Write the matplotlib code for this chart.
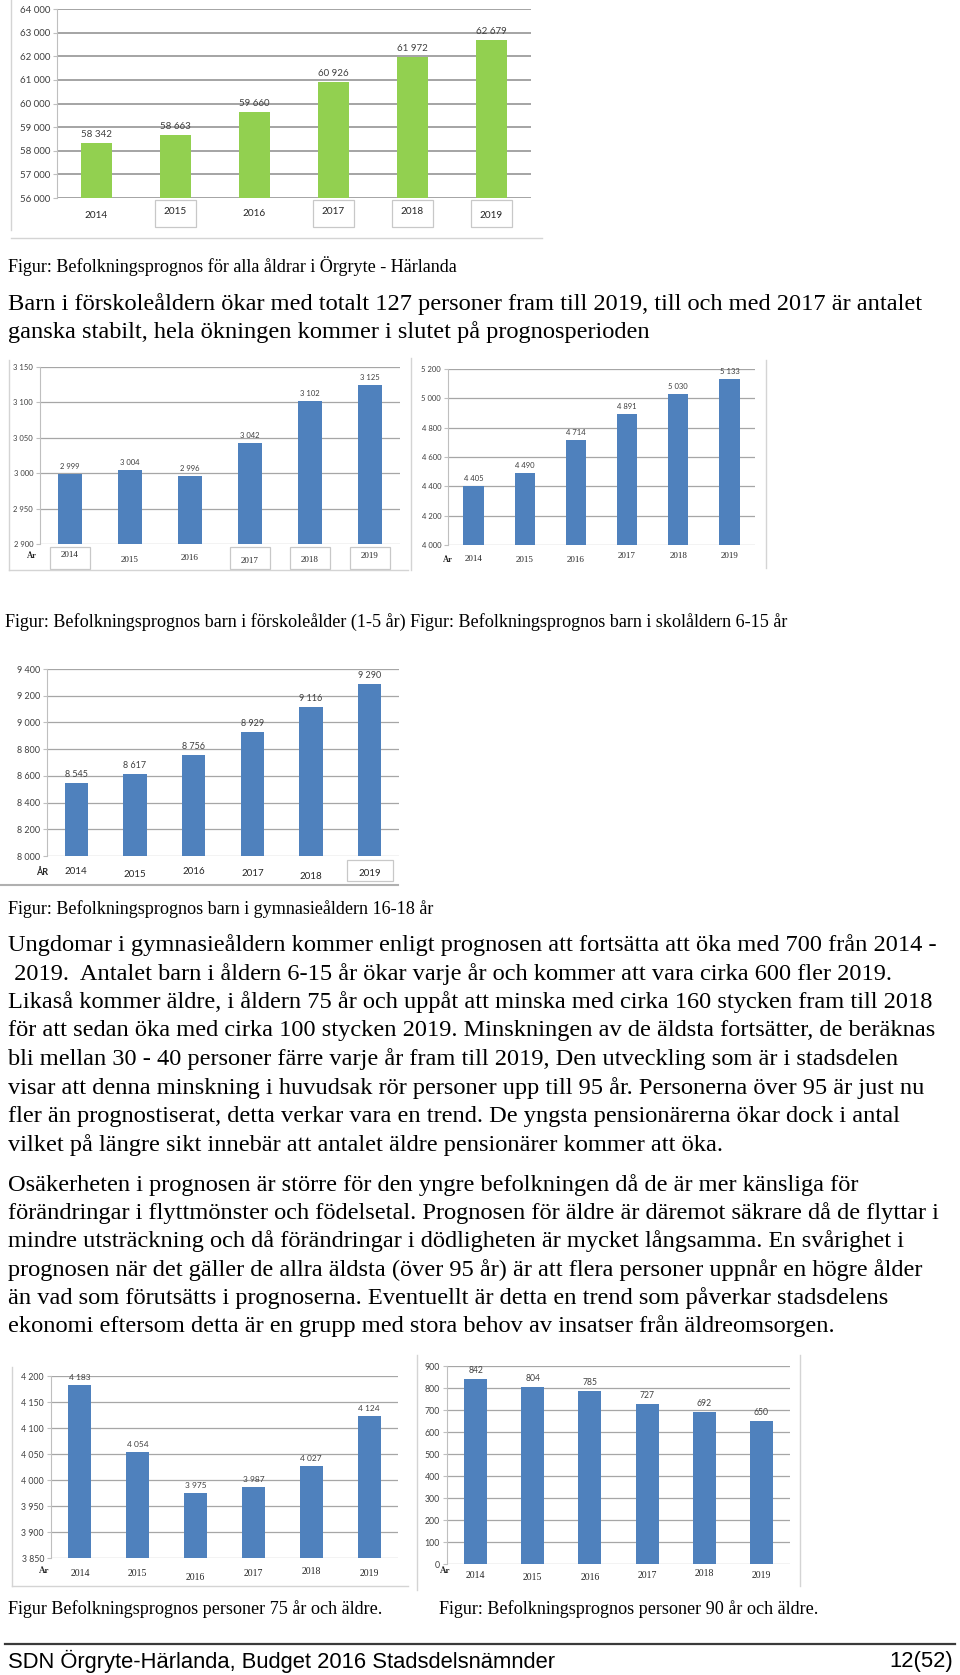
import matplotlib
matplotlib.use("Agg")
import matplotlib.pyplot as plt
from matplotlib import font_manager
from matplotlib.lines import Line2D
from matplotlib.patches import Rectangle

W, H = 960, 1675

years = ["2014", "2015", "2016", "2017", "2018", "2019"]

# Befolkningsprognos, antal personer per år
alla = [58342, 58663, 59660, 60926, 61972, 62679]
forskola = [2999, 3004, 2996, 3042, 3102, 3125]
skola = [4405, 4490, 4714, 4891, 5030, 5133]
gymnasie = [8545, 8617, 8756, 8929, 9116, 9290]
aldre75 = [4183, 4054, 3975, 3987, 4027, 4124]
aldre90 = [842, 804, 785, 727, 692, 650]

ticks_alla = list(range(56000, 64001, 1000))
ticks_forskola = list(range(2900, 3151, 50))
ticks_skola = list(range(4000, 5201, 200))
ticks_gymnasie = list(range(8000, 9401, 200))
ticks_aldre75 = list(range(3850, 4201, 50))
ticks_aldre90 = list(range(0, 901, 100))

caption_alla = "Figur: Befolkningsprognos för alla åldrar i Örgryte - Härlanda"
intro_lines = [
    "Barn i förskoleåldern ökar med totalt 127 personer fram till 2019, till och med 2017 är antalet",
    "ganska stabilt, hela ökningen kommer i slutet på prognosperioden",
]
caption_barn = ("Figur: Befolkningsprognos barn i förskoleålder (1-5 år) "
                "Figur: Befolkningsprognos barn i skolåldern 6-15 år")
caption_gymn = "Figur: Befolkningsprognos barn i gymnasieåldern 16-18 år"
para1 = [
    "Ungdomar i gymnasieåldern kommer enligt prognosen att fortsätta att öka med 700 från 2014 -",
    " 2019.  Antalet barn i åldern 6-15 år ökar varje år och kommer att vara cirka 600 fler 2019.",
    "Likaså kommer äldre, i åldern 75 år och uppåt att minska med cirka 160 stycken fram till 2018",
    "för att sedan öka med cirka 100 stycken 2019. Minskningen av de äldsta fortsätter, de beräknas",
    "bli mellan 30 - 40 personer färre varje år fram till 2019, Den utveckling som är i stadsdelen",
    "visar att denna minskning i huvudsak rör personer upp till 95 år. Personerna över 95 är just nu",
    "fler än prognostiserat, detta verkar vara en trend. De yngsta pensionärerna ökar dock i antal",
    "vilket på längre sikt innebär att antalet äldre pensionärer kommer att öka.",
]
para2 = [
    "Osäkerheten i prognosen är större för den yngre befolkningen då de är mer känsliga för",
    "förändringar i flyttmönster och födelsetal. Prognosen för äldre är däremot säkrare då de flyttar i",
    "mindre utsträckning och då förändringar i dödligheten är mycket långsamma. En svårighet i",
    "prognosen när det gäller de allra äldsta (över 95 år) är att flera personer uppnår en högre ålder",
    "än vad som förutsätts i prognoserna. Eventuellt är detta en trend som påverkar stadsdelens",
    "ekonomi eftersom detta är en grupp med stora behov av insatser från äldreomsorgen.",
]
caption_75 = "Figur Befolkningsprognos personer 75 år och äldre."
caption_90 = "Figur: Befolkningsprognos personer 90 år och äldre."
footer_left = "SDN Örgryte-Härlanda, Budget 2016 Stadsdelsnämnder"
footer_right = "12(52)"

installed = {f.name for f in font_manager.fontManager.ttflist}
SERIF = "Liberation Serif"
SANS = "Lato" if "Lato" in installed else "DejaVu Sans"
NARROW = "Liberation Sans Narrow" if "Liberation Sans Narrow" in installed else "Liberation Sans"

GREEN = "#92d050"
BLUE = "#4f81bd"
GRID = "#a6a6a6"
FRAME = "#d4d4d4"
LABEL = "#404040"

fig = plt.figure(figsize=(W / 100, H / 100), dpi=100)
fig.patch.set_facecolor("white")
renderer = fig.canvas.get_renderer()


def fmt(v):
    return f"{v:,}".replace(",", " ")


def fit_size(text, width_px, family):
    t = fig.text(0, 0, text, fontsize=10, family=family)
    w = t.get_window_extent(renderer).width
    t.remove()
    return 10 * width_px / w


def px_text(x, y, s, size, family, ha="left", color="black"):
    fig.text(x / W, 1 - y / H, s, fontsize=size, family=family, ha=ha, va="center", color=color)


def px_line(xs, ys, color=FRAME, lw=1.0):
    fig.add_artist(Line2D([x / W for x in xs], [1 - y / H for y in ys],
                          transform=fig.transFigure, color=color, lw=lw))


def bar_chart(rect, values, ticks, color, value_size, tick_size, year_family, year_size,
              year_dy, boxed=(), box_w=0.6, box_y=(3, 25), ar=None, grid=GRID, grid_lw=0.9):
    left, right, top, bottom = rect
    h = bottom - top
    ax = fig.add_axes([left / W, 1 - bottom / H, (right - left) / W, h / H])
    x = list(range(len(values)))
    ax.bar(x, values, width=0.4, color=color, zorder=3)
    ax.set_xlim(-0.5, len(values) - 0.5)
    ax.set_ylim(ticks[0], ticks[-1])
    ax.set_yticks(ticks)
    ax.set_yticklabels([fmt(t) for t in ticks], family=SANS)
    ax.set_xticks([])
    ax.yaxis.grid(True, color=grid, lw=grid_lw)
    ax.set_axisbelow(True)
    for s in ["top", "right", "bottom"]:
        ax.spines[s].set_visible(False)
    ax.spines["left"].set_color("#bfbfbf")
    ax.tick_params(axis="y", length=3, width=0.8, color="#bfbfbf",
                   labelsize=tick_size, labelcolor=LABEL, pad=2)
    for i, v in zip(x, values):
        ax.annotate(fmt(v), (i, v), xytext=(0, 4), textcoords="offset pixels",
                    ha="center", va="bottom", fontsize=value_size, color=LABEL, family=SANS)
    tr = ax.get_xaxis_transform()
    for i, (yr, dy) in enumerate(zip(years, year_dy)):
        ax.text(i, -dy / h, yr, transform=tr, ha="center", va="center",
                fontsize=year_size, family=year_family, color="#262626", clip_on=False)
        if i in boxed:
            ax.add_patch(Rectangle((i - box_w / 2, -box_y[1] / h), box_w,
                                   (box_y[1] - box_y[0]) / h, transform=tr, fill=False,
                                   ec="#c8c8c8", lw=0.9, clip_on=False))
    if ar is not None:
        ar_x, ar_dy, ar_text, ar_family, ar_weight = ar
        ax.text((ar_x - left) / (right - left), -ar_dy / h, ar_text, transform=ax.transAxes,
                ha="center", va="center", fontsize=year_size - 0.5, family=ar_family,
                weight=ar_weight, color="#262626", clip_on=False)
    return ax


# Diagram: alla åldrar
bar_chart((57, 531, 9, 198), alla, ticks_alla, GREEN, 7, 7, SANS, 7.2,
          [17, 14, 15, 14, 14, 17], boxed=(1, 3, 4, 5), box_w=0.53, box_y=(2, 29),
          grid="#8c8c8c", grid_lw=1.1)
px_line([11, 11], [0, 230])
px_line([11, 542], [238, 238])

# Diagram: förskola och skola
bar_chart((40, 400, 367, 544), forskola, ticks_forskola, BLUE, 5.5, 5.5, SERIF, 6.5,
          [11, 16, 14, 17, 16, 12], boxed=(0, 3, 4, 5), box_w=0.67, box_y=(3, 25),
          ar=(32, 12, "År", SERIF, "bold"))
bar_chart((448, 755, 369, 545), skola, ticks_skola, BLUE, 5.5, 5.5, SERIF, 6.5,
          [14, 15, 15, 11, 11, 11], ar=(448, 15, "År", SERIF, "bold"))
px_line([9, 9], [360, 570])
px_line([9, 408], [570, 570])
px_line([411, 411], [358, 570])
px_line([766, 766], [360, 568])

# Diagram: gymnasieålder
bar_chart((47, 399, 669, 856), gymnasie, ticks_gymnasie, BLUE, 6.5, 6.5, SANS, 7,
          [15, 18, 15, 17, 20, 17], boxed=(5,), box_w=0.78, box_y=(4, 25),
          ar=(42, 16, "ÅR", SANS, "bold"))
px_line([0, 398], [885, 885], color="#b0b0b0", lw=1.5)

# Diagram: äldre
bar_chart((51, 398, 1376, 1558), aldre75, ticks_aldre75, BLUE, 6, 6.3, SERIF, 7,
          [16, 15, 19, 15, 14, 15], ar=(44, 13, "År", SERIF, "bold"))
bar_chart((447, 790, 1366, 1564), aldre90, ticks_aldre90, BLUE, 6.2, 6.3, SERIF, 7,
          [12, 14, 14, 11, 9, 12], ar=(445, 7, "År", SERIF, "bold"))
px_line([12, 12], [1367, 1586])
px_line([12, 408], [1586, 1586])
px_line([417, 417], [1355, 1590])
px_line([800, 800], [1355, 1586])

# Text
cap_size = fit_size(caption_barn, 783, SERIF)
body_size = fit_size(para2[1], 933, SERIF)
foot_size = fit_size(footer_left, 552, NARROW)

px_text(8, 266, caption_alla, cap_size, SERIF)
for i, line in enumerate(intro_lines):
    px_text(8, 304 + i * 28, line, body_size, SERIF)
px_text(5, 622, caption_barn, cap_size, SERIF)
px_text(8, 909, caption_gymn, cap_size, SERIF)
for i, line in enumerate(para1):
    px_text(8, 945 + i * 28.6, line, body_size, SERIF)
for i, line in enumerate(para2):
    px_text(8, 1185 + i * 28.2, line, body_size, SERIF)
px_text(8, 1609, caption_75, cap_size, SERIF)
px_text(439, 1609, caption_90, cap_size, SERIF)

px_line([5, 955], [1644, 1644], color="#3a3a3a", lw=1.6)
px_text(8, 1661, footer_left, foot_size, NARROW)
px_text(953, 1661, footer_right, foot_size, NARROW, ha="right")

fig.savefig("out.png", dpi=100, facecolor="white")
